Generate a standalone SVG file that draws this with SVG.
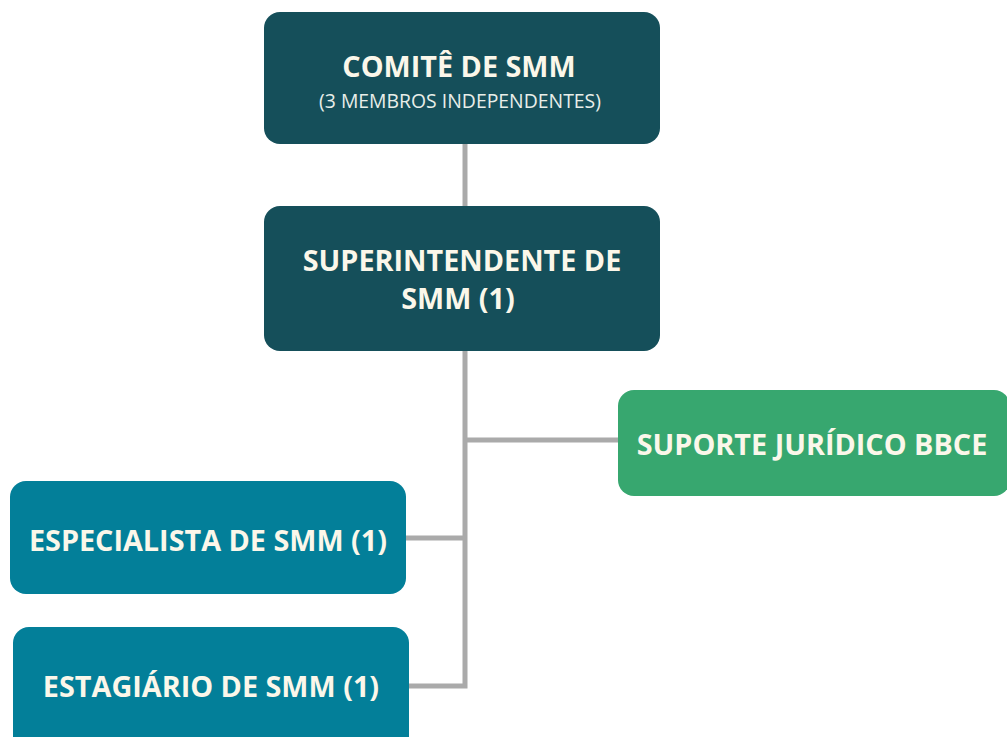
<svg xmlns="http://www.w3.org/2000/svg" width="1007" height="737" viewBox="0 0 1007 737">
<style>
.t{font-family:"Open Sans","Liberation Sans",sans-serif;font-weight:700;font-size:28.8px;fill:#fbf7ea;text-anchor:middle;dominant-baseline:central}
.s{font-family:"Open Sans","Liberation Sans",sans-serif;font-weight:400;font-size:19.4px;fill:#e8eee9;text-anchor:middle;dominant-baseline:central}
.c{stroke:#aaaaaa;stroke-width:5;fill:none}
</style>
<rect width="1007" height="737" fill="#ffffff"/>
<g id="connectors">
<line class="c" x1="465" y1="144" x2="465" y2="206"/>
<polyline class="c" points="465,351 465,686 409,686"/>
<line class="c" x1="465" y1="440" x2="618" y2="440"/>
<line class="c" x1="406" y1="538" x2="465" y2="538"/>
</g>
<g id="comite">
<rect x="264" y="12" width="396" height="132" rx="16" fill="#154f5a"/>
<text class="t" x="459" y="65">COMITÊ DE SMM</text>
<text class="s" x="460" y="100">(3 MEMBROS INDEPENDENTES)</text>
</g>
<g id="superintendente">
<rect x="264" y="206" width="396" height="145" rx="16" fill="#154f5a"/>
<text class="t" x="462" y="259">SUPERINTENDENTE DE</text>
<text class="t" x="458" y="297">SMM (1)</text>
</g>
<g id="suporte">
<rect x="618" y="390" width="392" height="106" rx="16" fill="#37a76f"/>
<text class="t" x="812" y="443">SUPORTE JURÍDICO BBCE</text>
</g>
<g id="especialista">
<rect x="10" y="481" width="396" height="113" rx="16" fill="#037f99"/>
<text class="t" x="208" y="539">ESPECIALISTA DE SMM (1)</text>
</g>
<g id="estagiario">
<rect x="13" y="627" width="396" height="126" rx="16" fill="#037f99"/>
<text class="t" x="211" y="685">ESTAGIÁRIO DE SMM (1)</text>
</g>
</svg>
